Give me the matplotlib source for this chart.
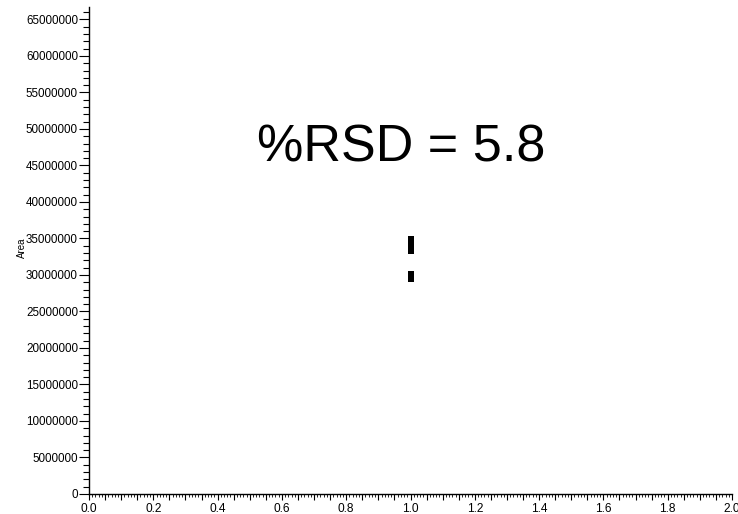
import numpy as np
import matplotlib
matplotlib.use("Agg")
import matplotlib.pyplot as plt
from matplotlib.ticker import MultipleLocator, FuncFormatter

plt.rcParams['font.family'] = ['Liberation Sans', 'DejaVu Sans']

# Replicate injection peak areas (all at x = 1)
sample_x = [1.0] * 10
areas = [34.9e6, 34.7e6, 34.4e6, 34.2e6, 33.9e6, 33.7e6, 33.5e6, 33.3e6,
         30.1e6, 29.5e6]
rsd_text = "%RSD = 5.8"

fig = plt.figure(figsize=(7.38, 5.14), dpi=100)
ax = fig.add_axes([89 / 738, 20 / 514, 643 / 738, 487 / 514])

ax.plot(sample_x, areas, linestyle='none', marker='s', markersize=4.7,
        color='black', markeredgewidth=0)

ax.set_xlim(0, 2.0)
ax.set_ylim(0, 66.7e6)

for side in ('top', 'right'):
    ax.spines[side].set_visible(False)
for side in ('left', 'bottom'):
    ax.spines[side].set_linewidth(1.0)

# x axis: labels every 0.2, ticks every 0.05, minor every 0.01
ax.xaxis.set_major_locator(MultipleLocator(0.05))
ax.xaxis.set_minor_locator(MultipleLocator(0.01))
ax.xaxis.set_major_formatter(FuncFormatter(
    lambda v, p: f"{v:.1f}" if abs(v / 0.2 - round(v / 0.2)) < 1e-6 else ""))
ax.tick_params(axis='x', which='major', length=4.5, width=0.8, labelsize=8.6, pad=2)
ax.tick_params(axis='x', which='minor', length=2.5, width=0.6)

# y axis: labels every 5,000,000, minor every 1,000,000
ax.yaxis.set_major_locator(MultipleLocator(5e6))
ax.yaxis.set_minor_locator(MultipleLocator(1e6))
ax.yaxis.set_major_formatter(FuncFormatter(lambda v, p: f"{int(round(v))}"))
ax.tick_params(axis='y', which='major', length=7, width=0.8, labelsize=8.4, pad=1)
ax.tick_params(axis='y', which='minor', length=4, width=0.8)

ax.set_ylabel("Area", fontsize=7)
ax.yaxis.set_label_coords(-0.097, 0.505)

ax.text(0.97, 47.4e6, rsd_text, fontsize=37.5, ha='center', va='center')

fig.savefig("out.png", dpi=100)
